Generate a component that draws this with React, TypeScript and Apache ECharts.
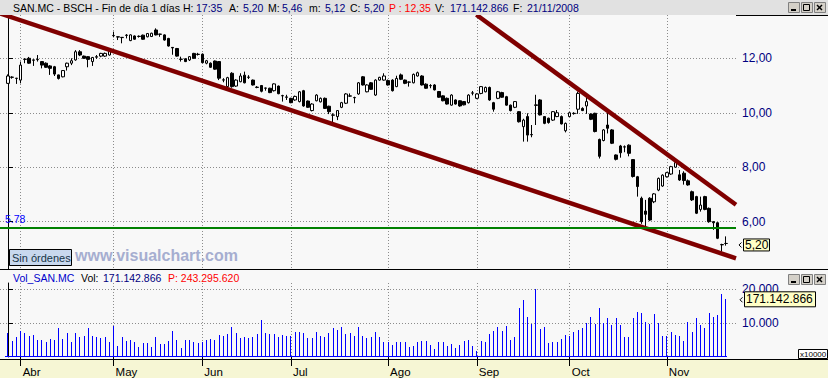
import React, { useEffect, useRef } from 'react';
import * as echarts from 'echarts';

// ---------- DATA ----------
const MONTH_NAMES = ['Mar', 'Abr', 'May', 'Jun', 'Jul', 'Ago', 'Sep', 'Oct', 'Nov'];
const MONTH_DAYS: number[][] = [
  [27, 28, 31],
  [1, 2, 3, 4, 7, 8, 9, 10, 11, 14, 15, 16, 17, 18, 21, 22, 23, 24, 25, 28, 29, 30],
  [2, 5, 6, 7, 8, 9, 12, 13, 14, 15, 16, 19, 20, 21, 22, 23, 26, 27, 28, 29, 30],
  [2, 3, 4, 5, 6, 9, 10, 11, 12, 13, 16, 17, 18, 19, 20, 23, 24, 25, 26, 27, 30],
  [1, 2, 3, 4, 7, 8, 9, 10, 11, 14, 15, 16, 17, 18, 21, 22, 23, 24, 25, 28, 29, 30, 31],
  [1, 4, 5, 6, 7, 8, 11, 12, 13, 14, 15, 18, 19, 20, 21, 22, 25, 26, 27, 28, 29],
  [1, 2, 3, 4, 5, 8, 9, 10, 11, 12, 15, 16, 17, 18, 19, 22, 23, 24, 25, 26, 29, 30],
  [1, 2, 3, 6, 7, 8, 9, 10, 13, 14, 15, 16, 17, 20, 21, 22, 23, 24, 27, 28, 29, 30, 31],
  [3, 4, 5, 6, 7, 10, 11, 12, 13, 14, 17, 18, 19, 20, 21],
];

const OPEN = [
  11.08, 11.30, 11.26, 11.20, 11.96, 12.00, 11.94, 11.95, 11.88, 11.82,
  11.72, 11.69, 11.39, 11.32, 11.69, 11.82, 11.94, 12.24, 12.08, 12.06,
  11.88, 12.04, 12.08, 12.08, 12.12, 12.83, 12.79, 12.76, 12.84, 12.65,
  12.82, 12.80, 12.85, 12.79, 12.80, 13.04, 12.88, 12.86, 12.73, 12.40,
  12.36, 11.96, 11.98, 11.94, 12.18, 12.14, 12.15, 11.82, 11.82, 11.90,
  11.88, 11.20, 10.96, 11.45, 10.98, 11.14, 11.38, 11.30, 11.20, 10.94,
  11.00, 10.90, 10.90, 10.81, 10.98, 10.62, 10.58, 10.53, 10.47, 10.41,
  10.81, 10.43, 10.08, 10.44, 10.40, 10.53, 10.24, 9.91, 9.86, 10.20,
  10.35, 10.61, 10.55, 10.69, 11.32, 10.77, 11.10, 10.65, 11.20, 11.20,
  11.18, 11.20, 10.96, 11.39, 11.20, 11.12, 11.10, 11.35, 11.35, 11.05,
  10.99, 11.02, 10.78, 10.62, 10.53, 10.28, 10.47, 10.44, 10.41, 10.37,
  10.72, 10.53, 10.71, 10.77, 10.93, 10.37, 10.53, 10.74, 10.59, 10.28,
  10.20, 10.04, 9.49, 9.86, 9.20, 10.27, 10.47, 9.86, 9.80, 9.73,
  9.86, 9.86, 9.34, 9.86, 9.97, 10.13, 10.16, 10.25, 9.95, 9.98,
  9.02, 8.98, 9.55, 9.37, 8.45, 8.78, 8.74, 8.81, 8.28, 7.65,
  6.86, 6.39, 6.86, 6.73, 7.16, 7.31, 7.65, 7.75, 8.00, 7.72,
  7.78, 7.50, 7.10, 6.92, 6.45, 6.92, 6.49, 6.00, 5.96, 5.15,
  5.20,
];
const HIGH = [
  11.41, 11.34, 11.28, 11.88, 12.00, 12.05, 11.96, 12.12, 11.90, 11.85,
  11.75, 11.72, 11.40, 11.57, 11.84, 12.00, 12.30, 12.30, 12.10, 12.08,
  12.05, 12.12, 12.20, 12.21, 12.36, 12.98, 12.80, 12.78, 12.89, 12.88,
  12.84, 12.84, 12.87, 12.93, 12.94, 13.10, 12.90, 12.88, 12.75, 12.41,
  12.38, 12.06, 12.00, 12.08, 12.20, 12.20, 12.18, 11.94, 11.85, 11.92,
  11.90, 11.27, 11.32, 11.49, 11.23, 11.45, 11.51, 11.38, 11.22, 10.98,
  11.02, 10.92, 10.92, 11.08, 11.00, 10.66, 10.66, 10.55, 10.63, 10.80,
  10.84, 10.45, 10.35, 10.68, 10.56, 10.56, 10.26, 9.98, 10.10, 10.40,
  10.72, 10.71, 10.59, 11.13, 11.35, 11.05, 11.13, 11.23, 11.32, 11.45,
  11.22, 11.23, 11.36, 11.44, 11.22, 11.15, 11.44, 11.51, 11.38, 11.08,
  11.05, 11.05, 10.80, 10.64, 10.56, 10.68, 10.49, 10.46, 10.43, 10.68,
  10.80, 10.72, 10.98, 10.96, 10.96, 10.40, 10.80, 10.77, 10.62, 10.30,
  10.43, 10.06, 9.78, 9.98, 9.55, 10.66, 10.50, 9.88, 9.82, 10.06,
  10.10, 9.90, 9.64, 10.03, 10.02, 10.78, 10.20, 10.69, 9.98, 10.00,
  9.05, 9.40, 10.04, 9.40, 8.47, 8.82, 8.80, 8.84, 8.30, 7.68,
  6.92, 6.80, 6.90, 7.05, 7.62, 7.74, 7.83, 8.05, 8.26, 7.90,
  7.85, 7.55, 7.14, 6.95, 6.92, 6.95, 6.52, 6.02, 5.98, 5.19,
  5.46,
];
const LOW = [
  11.06, 11.25, 11.06, 11.08, 11.82, 11.80, 11.72, 11.88, 11.63, 11.65,
  11.39, 11.35, 11.22, 11.30, 11.55, 11.75, 11.91, 12.08, 11.98, 11.67,
  11.72, 11.98, 12.04, 12.05, 12.10, 12.77, 12.67, 12.55, 12.73, 12.63,
  12.68, 12.76, 12.68, 12.77, 12.78, 12.84, 12.79, 12.65, 12.43, 12.13,
  12.06, 11.88, 11.86, 11.90, 11.98, 12.10, 11.82, 11.78, 11.65, 11.58,
  11.20, 11.12, 10.94, 10.92, 10.95, 11.12, 11.08, 11.24, 11.00, 10.90,
  10.75, 10.81, 10.72, 10.78, 10.68, 10.41, 10.47, 10.35, 10.44, 10.38,
  10.22, 10.18, 10.05, 10.42, 10.38, 10.14, 9.95, 9.62, 9.73, 10.17,
  10.32, 10.58, 10.35, 10.66, 11.00, 10.75, 10.84, 10.62, 11.18, 11.18,
  11.00, 10.78, 10.94, 11.20, 11.05, 10.96, 11.08, 11.33, 11.00, 10.88,
  10.90, 10.82, 10.55, 10.42, 10.30, 10.26, 10.30, 10.22, 10.27, 10.34,
  10.64, 10.50, 10.68, 10.75, 10.44, 10.04, 10.50, 10.55, 10.26, 10.05,
  10.17, 9.64, 8.94, 8.94, 9.10, 9.55, 9.90, 9.58, 9.60, 9.70,
  9.84, 9.57, 9.28, 9.84, 9.93, 9.96, 10.06, 9.96, 9.73, 9.28,
  8.32, 8.95, 9.24, 8.85, 8.25, 8.35, 8.55, 8.40, 7.62, 6.92,
  5.92, 5.70, 6.02, 6.68, 7.12, 7.28, 7.62, 7.72, 7.98, 7.50,
  7.36, 7.32, 6.76, 6.28, 6.37, 6.42, 5.96, 5.70, 5.36, 4.90,
  5.12,
];
const CLOSE = [
  11.35, 11.31, 11.27, 11.75, 11.97, 11.82, 11.93, 11.96, 11.75, 11.67,
  11.63, 11.42, 11.26, 11.55, 11.82, 11.91, 12.24, 12.12, 12.00, 11.96,
  12.03, 12.06, 12.18, 12.18, 12.30, 12.84, 12.78, 12.77, 12.85, 12.86,
  12.70, 12.81, 12.70, 12.91, 12.92, 12.86, 12.89, 12.67, 12.45, 12.38,
  12.08, 11.97, 11.88, 12.06, 12.00, 12.15, 11.84, 11.91, 11.67, 11.60,
  11.27, 11.21, 11.29, 10.96, 11.20, 11.35, 11.10, 11.31, 11.02, 10.93,
  10.79, 10.91, 10.74, 11.06, 10.70, 10.63, 10.57, 10.37, 10.60, 10.77,
  10.25, 10.20, 10.32, 10.65, 10.53, 10.16, 10.04, 9.92, 10.08, 10.37,
  10.69, 10.62, 10.56, 11.10, 11.02, 11.02, 10.86, 11.20, 11.30, 11.35,
  11.02, 10.81, 11.26, 11.23, 11.08, 11.13, 11.41, 11.47, 11.02, 10.90,
  11.00, 10.84, 10.57, 10.44, 10.32, 10.65, 10.32, 10.25, 10.29, 10.65,
  10.73, 10.69, 10.96, 10.93, 10.47, 10.13, 10.77, 10.57, 10.28, 10.08,
  10.41, 9.67, 9.73, 9.18, 9.19, 10.29, 9.92, 9.61, 9.64, 10.04,
  10.00, 9.59, 9.61, 10.00, 9.98, 10.71, 10.08, 10.41, 9.76, 9.31,
  8.40, 9.37, 9.43, 8.88, 8.29, 8.53, 8.75, 8.51, 7.66, 7.29,
  6.00, 6.27, 6.06, 7.02, 7.59, 7.71, 7.80, 8.02, 8.17, 7.53,
  7.51, 7.35, 6.80, 6.31, 6.61, 6.45, 6.00, 5.96, 5.39, 5.16,
  5.20,
];
// volume in units of 10,000 shares (axis shows x10000)
const VOLUME = [
  6960, 4710, 5980, 7650, 6960, 6270, 6470, 5000, 5000, 4510,
  5200, 5000, 8630, 5290, 6960, 4510, 7060, 5980, 6270, 8630,
  6270, 5980, 5690, 5980, 4510, 9220, 3330, 5980, 4710, 5000,
  4510, 2940, 4020, 4020, 3040, 5980, 3730, 3730, 4710, 7650,
  5000, 2550, 5000, 5000, 4310, 4020, 4510, 5000, 5290, 5000,
  6470, 6270, 6860, 8820, 6960, 5490, 5980, 5690, 5980, 6760,
  10880, 6960, 6670, 6760, 5980, 6470, 6270, 6270, 7450, 7250,
  6960, 5490, 5490, 7450, 6180, 5980, 6960, 8630, 7840, 8920,
  6670, 6960, 6270, 8920, 6270, 5490, 5980, 7450, 5980, 4510,
  4310, 3530, 4510, 4310, 4510, 3040, 3380, 4410, 4710, 4710,
  3530, 2350, 4310, 4310, 3240, 3730, 2750, 3530, 4710, 5000,
  3240, 1770, 4710, 4310, 6670, 7650, 8820, 7650, 9120, 5000,
  5980, 14310, 16760, 11670, 9610, 20000, 8240, 8820, 4220, 4510,
  4510, 5290, 6470, 6270, 7450, 7940, 8430, 9900, 11860, 9610,
  14310, 9900, 11570, 9410, 11370, 9410, 5980, 5980, 11370, 13330,
  13040, 10200, 9610, 12550, 9900, 6270, 6270, 7450, 6470, 6270,
  4710, 10390, 7450, 11370, 9410, 8430, 12840, 11670, 12350, 18430,
  17114.2866,
];
const LAST_VOLUME_SHARES = 171142866;
const AVG_VOLUME_TEXT = '243.295.620';
const P_TEXT = '12,35';
const SESSION_TIME = '17:35';
const SUPPORT = 5.78;
const PRICE_TICKS = [6, 8, 10, 12];
const VOLUME_TICKS = [10000, 20000];
// trendlines: [dayIndex, price]
const TREND_LOWER = [[-1.894, 13.645], [172.37, 4.654]];
const TREND_UPPER = [[110.9, 13.6], [172.37, 6.62]];

// ---------- derived ----------
const pad = (n: number) => (n < 10 ? '0' + n : '' + n);
const DATES = MONTH_DAYS.flatMap((days, m) => days.map((d) => `${pad(d)}/${pad(m + 3)}/2008`));
const MONTH_START = MONTH_DAYS.slice(1).map((_, k) =>
  MONTH_DAYS.slice(0, k + 1).reduce((s, a) => s + a.length, 0)
);

// ---------- layout ----------
const X_MIN = -1.894;
const X_MAX = 172.37;
const Y_MIN = 4.262;
const Y_MAX = 13.59;
const VOL_MAX = 21765;

const FONT = '"Liberation Sans", Arial, Helvetica, sans-serif';
const NAVY = '#000080';
const RED = '#ff0000';
const TREND_COLOR = '#800000';
const VOL_COLOR = '#0000ff';

const fmtComma = (v: number) => v.toFixed(2).replace('.', ',');
const fmtThousands = (v: number) =>
  Math.round(v).toString().replace(/\B(?=(\d{3})+(?!\d))/g, '.');

export default function App() {
  const ref = useRef<HTMLDivElement>(null);

  useEffect(() => {
    if (!ref.current) return;
    const chart = echarts.init(ref.current, undefined, { renderer: 'svg', width: 828, height: 378 });
    const N = DATES.length;
    const last = N - 1;
    const candleData = DATES.map((_, i) => [i, OPEN[i], CLOSE[i], LOW[i], HIGH[i]]);
    const volData = DATES.map((_, i) => [i, VOLUME[i]]);
    const dotted = { color: '#8c8c8c', width: 1, type: [1, 2] as any };

    const renderVolume = (params: any, api: any) => {
      const i = api.value(0);
      const top = api.coord([i, api.value(1)]);
      const base = api.coord([i, 0]);
      const band = api.size([1, 0])[0];
      const x = Math.floor(top[0]);
      const yb = Math.round(base[1]);
      const yt = Math.round(top[1]);
      const children: any[] = [
        { type: 'rect', shape: { x, y: yt, width: 1, height: yb - yt }, style: { fill: VOL_COLOR } },
      ];
      // baseline segment under this day
      const x0 = Math.round(top[0] - (i === 0 ? 0.8 : 0.5) * band);
      const x1 = Math.round(top[0] + (i === last ? 0.2 : 0.5) * band);
      children.push({ type: 'rect', shape: { x: x0, y: yb - 1, width: x1 - x0, height: 1 }, style: { fill: VOL_COLOR } });
      return { type: 'group', children };
    };

    const option: any = {
      animation: false,
      backgroundColor: '#f8f8f8',
      textStyle: { fontFamily: FONT },
      grid: [
        { left: 0, top: 15, width: 736, height: 254, containLabel: false, outerBoundsMode: 'none' },
        { left: 0, top: 283, width: 736, height: 74, containLabel: false, outerBoundsMode: 'none' },
      ],
      xAxis: [
        {
          type: 'value', gridIndex: 0, min: X_MIN, max: X_MAX,
          axisLine: { show: false },
          axisTick: { show: false, customValues: MONTH_START },
          axisLabel: { show: false, customValues: MONTH_START },
          splitLine: { show: true, lineStyle: dotted },
        },
        {
          type: 'value', gridIndex: 1, min: X_MIN, max: X_MAX, offset: 2,
          axisLine: { show: false },
          axisTick: { show: true, customValues: MONTH_START, length: 9, lineStyle: { color: '#000' } },
          axisLabel: {
            show: true, customValues: MONTH_START,
            formatter: (v: number) => MONTH_NAMES[MONTH_START.indexOf(Math.round(v)) + 1],
            align: 'left', margin: 7, padding: [0, 0, 0, 2], color: '#000', fontSize: 11.5,
          },
          splitLine: { show: true, lineStyle: dotted },
        },
      ],
      yAxis: [
        {
          type: 'value', gridIndex: 0, position: 'right', min: Y_MIN, max: Y_MAX,
          axisLine: { show: true, lineStyle: { color: '#000', width: 1 } },
          axisTick: { show: true, length: 5, customValues: PRICE_TICKS, lineStyle: { color: '#000' } },
          axisLabel: { customValues: PRICE_TICKS, formatter: (v: number) => fmtComma(v), color: NAVY, fontSize: 12, margin: 6 },
          splitLine: { show: true, lineStyle: dotted },
        },
        {
          type: 'value', gridIndex: 1, position: 'right', min: 0, max: VOL_MAX,
          axisLine: { show: true, lineStyle: { color: '#000', width: 1 } },
          axisTick: { show: true, length: 5, customValues: VOLUME_TICKS, lineStyle: { color: '#000' } },
          axisLabel: { customValues: VOLUME_TICKS, formatter: (v: number) => fmtThousands(v), color: NAVY, fontSize: 12, margin: 6 },
          splitLine: { show: true, lineStyle: dotted },
        },
      ],
      series: [
        {
          type: 'candlestick', xAxisIndex: 0, yAxisIndex: 0, data: candleData,
          encode: { x: 0, y: [1, 2, 3, 4] },
          barWidth: 3,
          itemStyle: { color: '#ffffff', color0: '#000000', borderColor: '#000000', borderColor0: '#000000', borderWidth: 1 },
          emphasis: { disabled: true },
          z: 2,
          markLine: {
            silent: true, symbol: ['none', 'none'], animation: false,
            data: [{ yAxis: SUPPORT }],
            lineStyle: { color: '#008000', width: 2, type: 'solid' },
            label: { show: true, position: 'insideStartTop', formatter: String(SUPPORT), color: '#0000ff', fontSize: 10.5, distance: [5, 3] },
          },
        },
        {
          type: 'line', xAxisIndex: 0, yAxisIndex: 0, data: TREND_LOWER, symbol: 'none', silent: true, z: 4,
          lineStyle: { color: TREND_COLOR, width: 4.5 },
        },
        {
          type: 'line', xAxisIndex: 0, yAxisIndex: 0, data: TREND_UPPER, symbol: 'none', silent: true, z: 4,
          lineStyle: { color: TREND_COLOR, width: 4.5 },
        },
        {
          type: 'custom', xAxisIndex: 1, yAxisIndex: 1, data: volData,
          encode: { x: 0, y: 1 }, renderItem: renderVolume, silent: true, clip: true,
        },
      ],
    };
    chart.setOption(option);

    const pricePx = chart.convertToPixel({ yAxisIndex: 0 } as any, CLOSE[last]) as number;
    const volPx = chart.convertToPixel({ yAxisIndex: 1 } as any, VOLUME[last]) as number;

    const t = (text: string, x: number, y: number, fill: string, size: number, extra: any = {}) => ({
      type: 'text', x, y, silent: true, z: 20,
      style: { text, fill, font: `${extra.weight || 'normal'} ${size}px ${FONT}`, verticalAlign: 'middle', align: extra.align || 'left' },
    });
    const rect = (x: number, y: number, w: number, h: number, fill: string, stroke?: string, z = 19) => ({
      type: 'rect', silent: true, z,
      shape: { x, y, width: w, height: h },
      style: { fill, stroke: stroke || null, lineWidth: stroke ? 1 : 0 },
    });
    const line = (x1: number, y1: number, x2: number, y2: number, stroke: string, w = 1, z = 18) => ({
      type: 'line', silent: true, z, shape: { x1, y1, x2, y2 }, style: { stroke, lineWidth: w },
    });
    const buttons = (y: number) => {
      const out: any[] = [];
      [788, 801, 814].forEach((bx, k) => {
        out.push(rect(bx + 0.5, y + 0.5, 11, 10, '#d4d0c8', '#808080', 21));
        if (k === 0) out.push(line(bx + 3, y + 8, bx + 8, y + 8, '#000', 2, 22));
        if (k === 1) out.push({ type: 'rect', silent: true, z: 22, shape: { x: bx + 2.5, y: y + 2.5, width: 6, height: 6 }, style: { fill: null, stroke: '#000', lineWidth: 1 } });
        if (k === 2) {
          out.push(line(bx + 3, y + 3, bx + 8, y + 8, '#000', 1.5, 22));
          out.push(line(bx + 8, y + 3, bx + 3, y + 8, '#000', 1.5, 22));
        }
      });
      return out;
    };

    const TS = 10.5;
    const titleSegs: [string, number, string][] = [
      ['SAN.MC - BSCH - Fin de día 1 días', 13, '#000'],
      ['H:', 183, '#000'], [SESSION_TIME, 196, NAVY],
      ['A:', 229, '#000'], [fmtComma(OPEN[last]), 243, NAVY],
      ['M:', 268, '#000'], [fmtComma(HIGH[last]), 282, NAVY],
      ['m:', 309, '#000'], [fmtComma(LOW[last]), 325, NAVY],
      ['C:', 350, '#000'], [fmtComma(CLOSE[last]), 364, NAVY],
      ['P : ' + P_TEXT, 389, RED],
      ['V:', 435, '#000'], [fmtThousands(LAST_VOLUME_SHARES), 450, NAVY],
      ['F:', 513, '#000'], [DATES[last], 527, NAVY],
    ];

    const graphic: any[] = [
      rect(0, 0, 828, 15, '#e1e1e1', undefined, 10),
      line(736, 15.5, 828, 15.5, '#000', 1, 18),
      line(0, 269.5, 828, 269.5, '#000', 1, 18),
      rect(0, 360, 828, 18, '#f6f6d4', undefined, -1),
      line(0, 359.5, 828, 359.5, '#000', 1, 18),
      ...titleSegs.map(([s, x, c]) => t(s, x, 8, c, TS)),
      ...buttons(2),
      t('Vol_SAN.MC', 13, 278, '#0000cc', TS),
      t('Vol:', 81, 278, '#000', TS),
      t(fmtThousands(LAST_VOLUME_SHARES), 103, 278, NAVY, TS),
      t('P: ' + AVG_VOLUME_TEXT, 168, 278, RED, TS),
      ...buttons(274),
      // order box + watermark
      rect(9.5, 249.5, 62, 16, '#c8d8ee', '#000'),
      t('Sin órdenes', 12, 258, '#163447', 11),
      t('www.visualchart.com', 75, 255, '#a6aed0', 16, { weight: 'bold' }),
      // x10000 box
      rect(798.5, 349.5, 29, 9, '#ffffff', '#000'),
      t('x10000', 800, 354.5, '#000', 8),
      // last price box
      { type: 'polyline', silent: true, z: 21, shape: { points: [[741.5, pricePx - 1], [739, pricePx + 1.5], [741.5, pricePx + 4]] }, style: { stroke: '#000', fill: null, lineWidth: 1 } },
      rect(743.5, pricePx - 4.5, 26, 12, '#ffffc6', '#000'),
      t(fmtComma(CLOSE[last]), 745, pricePx + 1.5, '#000', 12),
      // last volume box
      { type: 'polyline', silent: true, z: 21, shape: { points: [[742.5, volPx - 1.5], [740, volPx + 1], [742.5, volPx + 3.5]] }, style: { stroke: '#000', fill: null, lineWidth: 1 } },
      rect(744.5, volPx - 7, 71, 15, '#ffffc6', '#000'),
      t(fmtThousands(LAST_VOLUME_SHARES), 746, volPx + 0.5, '#000', 12),
    ];
    chart.setOption({ graphic });

    return () => chart.dispose();
  }, []);

  return <div ref={ref} style={{ position: 'fixed', left: 0, top: 0, width: 828, height: 378 }} />;
}
